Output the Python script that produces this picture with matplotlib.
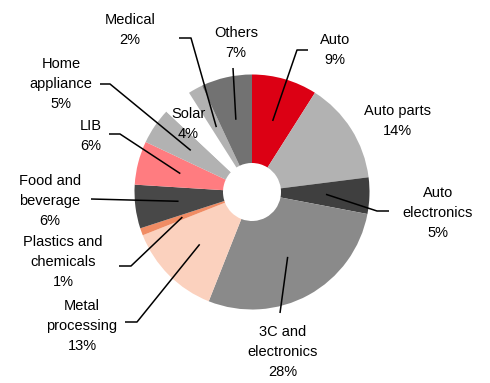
import numpy as np
import matplotlib
matplotlib.use("Agg")
import matplotlib.pyplot as plt

plt.rcParams["font.family"] = ["Liberation Sans", "DejaVu Sans"]

# Industry mix, clockwise from 12 o'clock
sectors = ["Auto", "Auto parts", "Auto electronics", "3C and electronics",
           "Metal processing", "Plastics and chemicals", "Food and beverage",
           "LIB", "Home appliance", "Solar", "Medical", "Others"]
shares = [9, 14, 5, 28, 13, 1, 6, 6, 5, 4, 2, 7]
label_text = ["Auto", "Auto parts", "Auto\nelectronics", "3C and\nelectronics",
              "Metal\nprocessing", "Plastics and\nchemicals", "Food and\nbeverage",
              "LIB", "Home\nappliance", "Solar", "Medical", "Others"]
colors = ["#dc0014", "#b2b2b2", "#3f3f3f", "#8a8a8a", "#fbd1be", "#f08c64",
          "#484848", "#ff7c80", "#b2b2b2", "#ffffff", "#b2b2b2", "#727272"]

W, H = 490, 383
fig = plt.figure(figsize=(W / 100, H / 100), dpi=100)
ax = fig.add_axes([0, 0, 1, 1])

cx, cy = 252, H - 192
R, r_hole = 117.5, 29

wedges, _ = ax.pie(shares, colors=colors, startangle=90, counterclock=False,
                   center=(cx, cy), radius=R,
                   wedgeprops=dict(width=R - r_hole, linewidth=0))

# label layout in pixel coords (y from top): text centre, leader elbow points
layout = {
    "Auto": ((335, 50), [(308, 50), (297, 50)]),
    "Auto parts": ((397, 121), None),
    "Auto electronics": ((438, 213), [(389, 211), (377, 211)]),
    "3C and electronics": ((283, 352), [(280, 313)]),
    "Metal processing": ((82, 326), [(125, 322), (137, 322)]),
    "Plastics and chemicals": ((63, 262), [(119, 266), (131, 266)]),
    "Food and beverage": ((50, 201), [(91, 199)]),
    "LIB": ((91, 136), [(109, 134), (120, 134)]),
    "Home appliance": ((61, 84), [(100, 84), (110, 84)]),
    "Solar": ((188, 124), None),
    "Medical": ((130, 30), [(179, 38), (191, 38)]),
    "Others": ((236, 43), [(233, 68)]),
}

for w, name, txt, pct in zip(wedges, sectors, label_text, shares):
    (tx, ty), path = layout[name]
    ax.text(tx, H - ty, f"{txt}\n{pct}%", ha="center", va="center",
            fontsize=10.5, linespacing=1.55, color="black")
    if path:
        mid = np.deg2rad((w.theta1 + w.theta2) / 2)
        end = (cx + 0.63 * R * np.cos(mid), cy + 0.63 * R * np.sin(mid))
        xs = [p[0] for p in path] + [end[0]]
        ys = [H - p[1] for p in path] + [end[1]]
        ax.plot(xs, ys, color="black", lw=1.1, solid_capstyle="butt")

ax.set_xlim(0, W)
ax.set_ylim(0, H)
ax.set_aspect("equal")
ax.axis("off")

fig.savefig("out.png", dpi=100)
